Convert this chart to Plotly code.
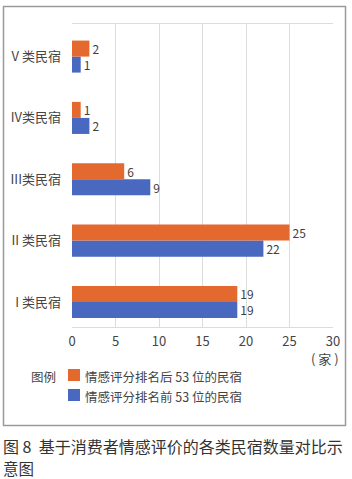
import plotly.graph_objects as go

categories = ["I 类民宿", "II 类民宿", "III类民宿", "IV类民宿", "V 类民宿"]
after_53 = [19, 25, 6, 1, 2]
before_53 = [19, 22, 9, 2, 1]
name_after = "情感评分排名后 53 位的民宿"
name_before = "情感评分排名前 53 位的民宿"
x_ticks = [0, 5, 10, 15, 20, 25, 30]
unit_label = "( 家 )"
legend_title = "图例"
caption_1 = "图 8  基于消费者情感评价的各类民宿数量对比示"
caption_2 = "意图"

ORANGE = "#E4692F"
BLUE = "#4968C0"
FONT = "Noto Sans CJK SC"
W, H = 352, 479
L, R, T, B = 72, 19, 24, 152
PW, PH = W - L - R, H - T - B

def px(x):
    return (x - L) / PW

def py(y):
    return (H - B - y) / PH

fig = go.Figure()
fig.add_trace(go.Bar(y=categories, x=before_53, orientation="h", name=name_before,
                     marker=dict(color=BLUE, line=dict(width=0)),
                     text=before_53, textposition="outside", cliponaxis=False, constraintext="none",
                     textfont=dict(family=FONT, size=12, color="#404040")))
fig.add_trace(go.Bar(y=categories, x=after_53, orientation="h", name=name_after,
                     marker=dict(color=ORANGE, line=dict(width=0)),
                     text=after_53, textposition="outside", cliponaxis=False, constraintext="none",
                     textfont=dict(family=FONT, size=12, color="#404040")))

shapes = [
    dict(type="rect", xref="paper", yref="paper", x0=px(3.5), x1=px(345.5), y0=py(6.5), y1=py(425.5),
         line=dict(color="#9A9A9A", width=1.5), fillcolor="rgba(0,0,0,0)", layer="below"),
    dict(type="rect", xref="paper", yref="paper", x0=px(68), x1=px(80), y0=py(369), y1=py(381),
         line=dict(width=0), fillcolor=ORANGE),
    dict(type="rect", xref="paper", yref="paper", x0=px(68), x1=px(80), y0=py(389), y1=py(401),
         line=dict(width=0), fillcolor=BLUE),
]
annotations = [
    dict(text=unit_label, xref="paper", yref="paper", x=px(341), y=py(358), xanchor="right", yanchor="middle",
         showarrow=False, font=dict(family=FONT, size=13, color="#444")),
    dict(text=legend_title, xref="paper", yref="paper", x=px(29), y=py(376), xanchor="left", yanchor="middle",
         showarrow=False, font=dict(family=FONT, size=12.5, color="#444")),
    dict(text=name_after, xref="paper", yref="paper", x=px(83), y=py(376), xanchor="left", yanchor="middle",
         showarrow=False, font=dict(family=FONT, size=12.5, color="#444")),
    dict(text=name_before, xref="paper", yref="paper", x=px(83), y=py(396), xanchor="left", yanchor="middle",
         showarrow=False, font=dict(family=FONT, size=12.5, color="#444")),
    dict(text=caption_1, xref="paper", yref="paper", x=px(1), y=py(446), xanchor="left", yanchor="middle",
         align="left", showarrow=False, font=dict(family=FONT, size=16, color="#333")),
    dict(text=caption_2, xref="paper", yref="paper", x=px(1), y=py(467.5), xanchor="left", yanchor="middle",
         align="left", showarrow=False, font=dict(family=FONT, size=15.5, color="#333")),
]

fig.update_layout(
    width=W, height=H, margin=dict(l=L, r=R, t=T, b=B),
    paper_bgcolor="white", plot_bgcolor="white",
    barmode="group", bargap=0.478, bargroupgap=0,
    showlegend=False, shapes=shapes, annotations=annotations,
    font=dict(family=FONT, size=12, color="#444"),
)
fig.update_xaxes(range=[0, 30], tickvals=x_ticks, showgrid=True, gridcolor="#DCDCDC", gridwidth=1,
                 zeroline=False, showline=True, mirror=True, linecolor="#DCDCDC", linewidth=1,
                 ticks="", ticklabelstandoff=2, tickfont=dict(family=FONT, size=13, color="#444"))
fig.update_yaxes(categoryorder="array", categoryarray=categories, range=[-0.408, 4.531],
                 showgrid=False, zeroline=False, showline=False, ticks="", ticklabelstandoff=10,
                 tickfont=dict(family=FONT, size=13, color="#444"))

fig.write_html("out.html")
